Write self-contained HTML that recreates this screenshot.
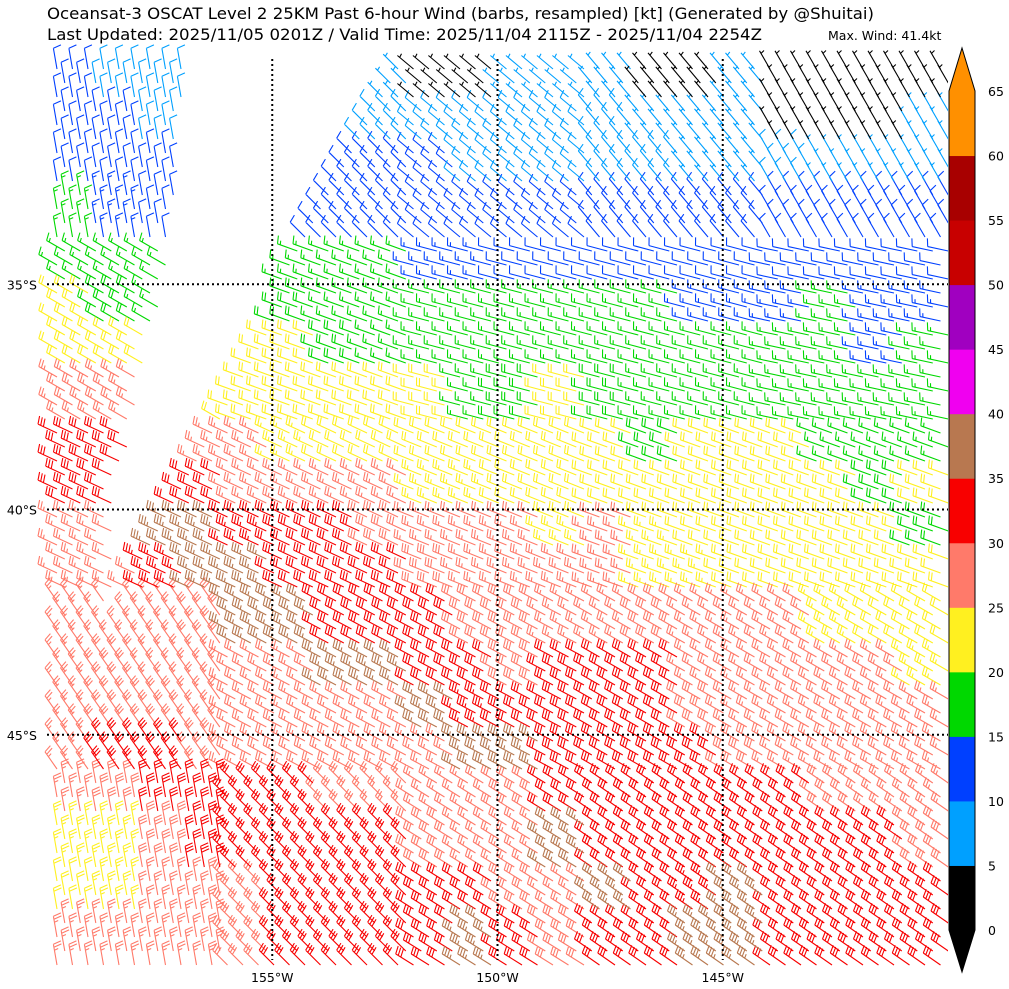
<!DOCTYPE html>
<html><head><meta charset="utf-8"><style>
body{margin:0;background:#fff;width:1009px;height:989px;overflow:hidden;font-family:"DejaVu Sans","Liberation Sans",sans-serif}
svg{position:absolute;left:0;top:0;font-family:"DejaVu Sans","Liberation Sans",sans-serif}
</style></head><body>
<svg id="chart" width="1009" height="989" viewBox="0 0 1009 989">
<text x="47" y="19" font-size="16" textLength="827" lengthAdjust="spacingAndGlyphs">Oceansat-3 OSCAT Level 2 25KM Past 6-hour Wind (barbs, resampled) [kt] (Generated by @Shuitai)</text>
<text x="47" y="40" font-size="16" textLength="715" lengthAdjust="spacingAndGlyphs">Last Updated: 2025/11/05 0201Z / Valid Time: 2025/11/04 2115Z - 2025/11/04 2254Z</text>
<text x="828" y="40" font-size="12.5">Max. Wind: 41.4kt</text>
<g id="barbs"></g>
<g id="grid"></g>
<g id="axes"></g>
<g id="cbar"></g>
</svg>
<script>
// speed grid (kt), 20 rows (30S..50S, 1deg) x 20 cols (160W..140W, 1deg)
const speedRow0=[11,8,8,8,8,8,8,6,4,4,7,7,5,4,4,6,4,4,4,4];
const speedRow1=[12,12,9,9,9,8,8,8,8,8,8,8,8,7,6,6,4,4,4,6];
const speedRow2=[12,12,11,11,11,11,11,11,10,9,8,8,8,8,7,6,8,7,6,6];
const speedRow3=[16,14,12,12,12,12,12,12,12,12,12,12,12,12,12,12,11,10,10,11];
const speedRow4=[17,17,15,16,16,16,16,16,14,13,12,12,12,12,12,12,12,12,12,12];
const speedRow5=[20,18,17,20,22,19,17,17,17,17,17,17,17,16,14,13,14,15,13,13];
const speedRow6=[21,21,22,22,22,22,19,17,17,17,17,17,17,17,17,17,17,16,14,15];
const speedRow7=[26,27,27,22,22,22,22,21,20,17,19,21,19,17,17,17,17,17,16,17];
const speedRow8=[30,32,31,27,26,24,22,22,22,22,22,22,20,18,21,20,20,17,17,17];
const speedRow9=[32,32,30,30,27,27,27,25,23,24,22,22,22,22,22,22,22,21,18,20];
const speedRow10=[26,27,36,36,33,31,30,28,27,27,25,23,26,24,22,22,22,22,20,18];
const speedRow11=[27,27,33,36,36,32,31,31,28,27,27,27,27,23,24,22,22,22,22,20];
const speedRow12=[27,27,27,29,36,36,32,32,30,28,29,27,27,29,27,27,25,23,22,22];
const speedRow13=[27,28,27,27,27,27,36,36,32,32,29,31,32,30,27,27,27,27,25,24];
const speedRow14=[27,29,28,27,27,27,27,27,36,33,32,32,32,31,29,27,27,27,27,27];
const speedRow15=[27,31,31,29,27,27,27,27,27,36,36,32,32,32,31,29,27,27,27,27];
const speedRow16=[25,29,31,31,30,31,28,27,27,27,29,32,32,32,32,32,30,28,27,27];
const speedRow17=[23,24,29,30,32,32,32,31,28,27,27,36,32,32,32,32,32,32,30,28];
const speedRow18=[22,24,27,27,29,32,32,32,32,32,28,27,36,32,33,35,32,32,32,30];
const speedRow19=[27,27,27,27,28,32,32,32,31,36,30,28,32,32,36,36,32,32,32,32];
const speeds=[speedRow0,speedRow1,speedRow2,speedRow3,speedRow4,speedRow5,speedRow6,speedRow7,speedRow8,speedRow9,speedRow10,speedRow11,speedRow12,speedRow13,speedRow14,speedRow15,speedRow16,speedRow17,speedRow18,speedRow19];
// staff direction (deg, screen) on coarse 5x5 grid (4deg blocks)
const dirRow0=[100,135,140,130,120];
const dirRow1=[150,160,165,165,168];
const dirRow2=[155,155,158,160,160];
const dirRow3=[125,152,152,150,150];
const dirRow4=[100,135,148,145,145];
const dirs=[dirRow0,dirRow1,dirRow2,dirRow3,dirRow4];
const levels=[0,5,10,15,20,25,30,35,40,45,50,55,60,65];
const colors=["#000000","#00a0ff","#0040ff","#00d800","#fff020","#ff7a6a","#f80000","#b87850","#f000f0","#a000c0","#c80000","#a80000","#ff9000"];
const lonTicks=[-155,-150,-145];
const latTicks=[-35,-40,-45];

const X0=47,X1=948,Y0=59,Y1=960;
const lonMin=-160,lonMax=-140,latMax=-30,latMin=-50;
const xs=lon=>X0+(lon-lonMin)/(lonMax-lonMin)*(X1-X0);
const ys=lat=>Y0+(latMax-lat)/(latMax-latMin)*(Y1-Y0);
const NS="http://www.w3.org/2000/svg";
function colorFor(s){let i=Math.floor(s/5);if(i<0)i=0;if(i>12)i=12;return colors[i];}
const gap=[[178,59],[385,59],[334,159],[280,256],[234,359],[190,426],[157,492],[124,559],[100,640],[103,600],[109,492],[129,392],[160,259]];
function inPoly(x,y,p){let c=false;for(let i=0,j=p.length-1;i<p.length;j=i++){const[xi,yi]=p[i],[xj,yj]=p[j];if(((yi>y)!=(yj>y))&&(x<(xj-xi)*(y-yi)/(yj-yi)+xi))c=!c;}return c;}

const paths={};
const sp=15.5,rp=14;
let row=0;
for(let y=Y0+10;y<Y1+6;y+=rp,row++){
  for(let x=X0+10+(row%2)*sp/2;x<X1+8;x+=sp){
    if(inPoly(x-8,y-6,gap))continue;
    const lon=lonMin+(x-X0)/(X1-X0)*(lonMax-lonMin);
    const lat=latMax-(y-Y0)/(Y1-Y0)*(latMax-latMin);
    const c=Math.min(19,Math.max(0,Math.floor(lon-lonMin)));
    const r=Math.min(19,Math.max(0,Math.floor(latMax-lat)));
    const s=speeds[r][c];
    const dc=Math.min(4,Math.floor(c/4)),dr=Math.min(4,Math.floor(r/4));
    const a=dirs[dr][dc]*Math.PI/180;
    const ux=Math.cos(a),uy=-Math.sin(a);
    const px=-uy,py=ux;
    const L=21;
    const tx=x+L*ux,ty=y+L*uy;
    let d=`M${x.toFixed(1)} ${y.toFixed(1)}L${tx.toFixed(1)} ${ty.toFixed(1)}`;
    let rem=Math.round(s/5)*5;
    let pos=0;
    while(rem>=10){
      const qx=tx-pos*ux,qy=ty-pos*uy;
      d+=`M${qx.toFixed(1)} ${qy.toFixed(1)}l${(8*px+2*ux).toFixed(1)} ${(8*py+2*uy).toFixed(1)}`;
      rem-=10;pos+=3;
    }
    if(rem>=5){
      if(pos===0)pos=3;
      const qx=tx-pos*ux,qy=ty-pos*uy;
      d+=`M${qx.toFixed(1)} ${qy.toFixed(1)}l${(4*px+1*ux).toFixed(1)} ${(4*py+1*uy).toFixed(1)}`;
    }
    const col=colorFor(s);
    (paths[col]=paths[col]||[]).push(d);
  }
}
const gb=document.getElementById('barbs');
for(const col in paths){
  const p=document.createElementNS(NS,'path');
  
  
  p.setAttribute('d',paths[col].join(''));
  p.setAttribute('stroke',col);p.setAttribute('stroke-width','1.1');p.setAttribute('fill','none');
  gb.appendChild(p);
}
const clipR=document.createElementNS(NS,'rect');


clipR.setAttribute('x',X1);clipR.setAttribute('y',Y0);clipR.setAttribute('width',2);clipR.setAttribute('height',Y1-Y0);clipR.setAttribute('fill','#fff');
gb.appendChild(clipR);
// grid + labels
const gg=document.getElementById('grid'),ga=document.getElementById('axes');
lonTicks.forEach(lo=>{
  const x=xs(lo);
  const l=document.createElementNS(NS,'line');
  
  
  l.setAttribute('x1',x);l.setAttribute('x2',x);l.setAttribute('y1',Y0);l.setAttribute('y2',Y1);
  l.setAttribute('stroke','#000');l.setAttribute('stroke-width','2');l.setAttribute('stroke-dasharray','2 3');
  gg.appendChild(l);
  const t=document.createElementNS(NS,'text');
  
  
  t.setAttribute('x',x);t.setAttribute('y',982);t.setAttribute('font-size','12.5');t.setAttribute('text-anchor','middle');
  t.textContent=Math.abs(lo)+'°W';ga.appendChild(t);
});
latTicks.forEach(la=>{
  const y=ys(la);
  const l=document.createElementNS(NS,'line');
  
  
  l.setAttribute('x1',X0);l.setAttribute('x2',X1);l.setAttribute('y1',y);l.setAttribute('y2',y);
  l.setAttribute('stroke','#000');l.setAttribute('stroke-width','2');l.setAttribute('stroke-dasharray','2 3');
  gg.appendChild(l);
  const t=document.createElementNS(NS,'text');
  
  
  t.setAttribute('x',37);t.setAttribute('y',y+5);t.setAttribute('font-size','12.5');t.setAttribute('text-anchor','end');
  t.textContent=Math.abs(la)+'°S';ga.appendChild(t);
});
// colorbar
const cb=document.getElementById('cbar');
const cx0=949,cx1=975,cTop=91,cBot=930,seg=(cBot-cTop)/13;
function addEl(tag,attrs,name){const e=document.createElementNS(NS,tag);for(const k in attrs)e.setAttribute(k,attrs[k]);


cb.appendChild(e);return e;}
for(let i=0;i<13;i++){
  addEl('rect',{x:cx0,y:cBot-(i+1)*seg,width:cx1-cx0,height:seg+0.5,fill:colors[i]},'colorbar-segment');
}
addEl('polygon',{points:`${cx0},${cTop} ${cx1},${cTop} ${(cx0+cx1)/2},48`,fill:colors[12]},'colorbar-extend-top');
addEl('polygon',{points:`${cx0},${cBot} ${cx1},${cBot} ${(cx0+cx1)/2},972`,fill:colors[0]},'colorbar-extend-bottom');
addEl('polygon',{points:`${cx0},${cTop} ${(cx0+cx1)/2},48 ${cx1},${cTop} ${cx1},${cBot} ${(cx0+cx1)/2},972 ${cx0},${cBot}`,fill:'none',stroke:'#000','stroke-width':1},'colorbar-outline');
levels.forEach((lv,i)=>{
  const t=addEl('text',{x:988,y:cBot-i*seg+5,'font-size':'12.5'},'colorbar-tick-label');
  t.textContent=lv;
});
</script>
</body></html>
